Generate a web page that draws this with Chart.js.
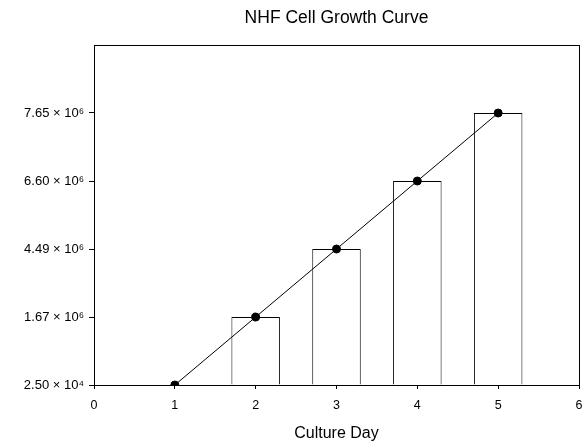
<!DOCTYPE html>
<html><head><meta charset="utf-8">
<script src="https://cdn.jsdelivr.net/npm/chart.js@4.4.0/dist/chart.umd.min.js"></script>
<style>html,body{margin:0;padding:0;background:#fff;overflow:hidden}#wrap{width:587px;height:444px}</style>
</head><body><div id="wrap"><canvas id="c"></canvas></div>
<script>
const days = [1, 2, 3, 4, 5];
const levelIndex = [0, 1, 2, 3, 4];
const yTickLabels = ["2.50 × 10⁴", "1.67 × 10⁶", "4.49 × 10⁶", "6.60 × 10⁶", "7.65 × 10⁶"];
const xTicks = [0, 1, 2, 3, 4, 5, 6];

const pts = days.map((d, i) => ({x: d, y: levelIndex[i]}));
const frame = {
  id: 'frame',
  afterDraw(chart) {
    const {ctx, chartArea: a} = chart;
    ctx.save(); ctx.strokeStyle = '#000'; ctx.lineWidth = 1;
    ctx.strokeRect(Math.round(a.left) + 0.5, Math.round(a.top) + 0.5, Math.round(a.right - a.left), Math.round(a.bottom - a.top));
    ctx.restore();
  }
};
new Chart(document.getElementById('c'), {
  data: {
    datasets: [
      {type: 'line', data: pts, borderColor: '#000', borderWidth: 1, pointRadius: 4, pointBackgroundColor: '#000', pointBorderColor: '#000', order: 0},
      {type: 'bar', data: pts, backgroundColor: '#fff', borderColor: '#000', borderWidth: 1, barPercentage: 0.6, categoryPercentage: 1, order: 1}
    ]
  },
  options: {
    responsive: true, maintainAspectRatio: false, animation: false,
    layout: {padding: {left: 0, right: 8, top: 0, bottom: 0}},
    plugins: {
      legend: {display: false}, tooltip: {enabled: false},
      title: {display: true, fullSize: false, text: 'NHF Cell Growth Curve', color: '#000', font: {family: 'Liberation Sans', size: 17.5, weight: 'normal'}, padding: {top: 8, bottom: 16}}
    },
    scales: {
      x: {
        type: 'linear', min: 0, max: 6, offset: false,
        afterBuildTicks: s => { s.ticks = xTicks.map(v => ({value: v})); },
        afterFit: s => { s.height = 59; s.paddingRight = 4; s.paddingLeft = 4; },
        ticks: {color: '#000', font: {family: 'Liberation Sans', size: 12.5}, padding: 9.5},
        grid: {drawOnChartArea: false, offset: false, color: '#000', tickLength: 4},
        border: {color: '#000'},
        title: {display: true, text: 'Culture Day', color: '#000', font: {family: 'Liberation Sans', size: 16}, padding: {top: 2, bottom: 1}}
      },
      y: {
        type: 'linear', min: 0, max: 5,
        afterBuildTicks: s => { s.ticks = levelIndex.map(v => ({value: v})); },
        afterFit: s => { s.width = 94; },
        ticks: {color: '#000', font: {family: 'Liberation Sans', size: 13}, padding: 5,
          callback: v => yTickLabels[v] !== undefined ? yTickLabels[v] : ''},
        grid: {drawOnChartArea: false, color: '#000', tickLength: 5},
        border: {color: '#000'}
      }
    }
  },
  plugins: [frame]
});
</script></body></html>
